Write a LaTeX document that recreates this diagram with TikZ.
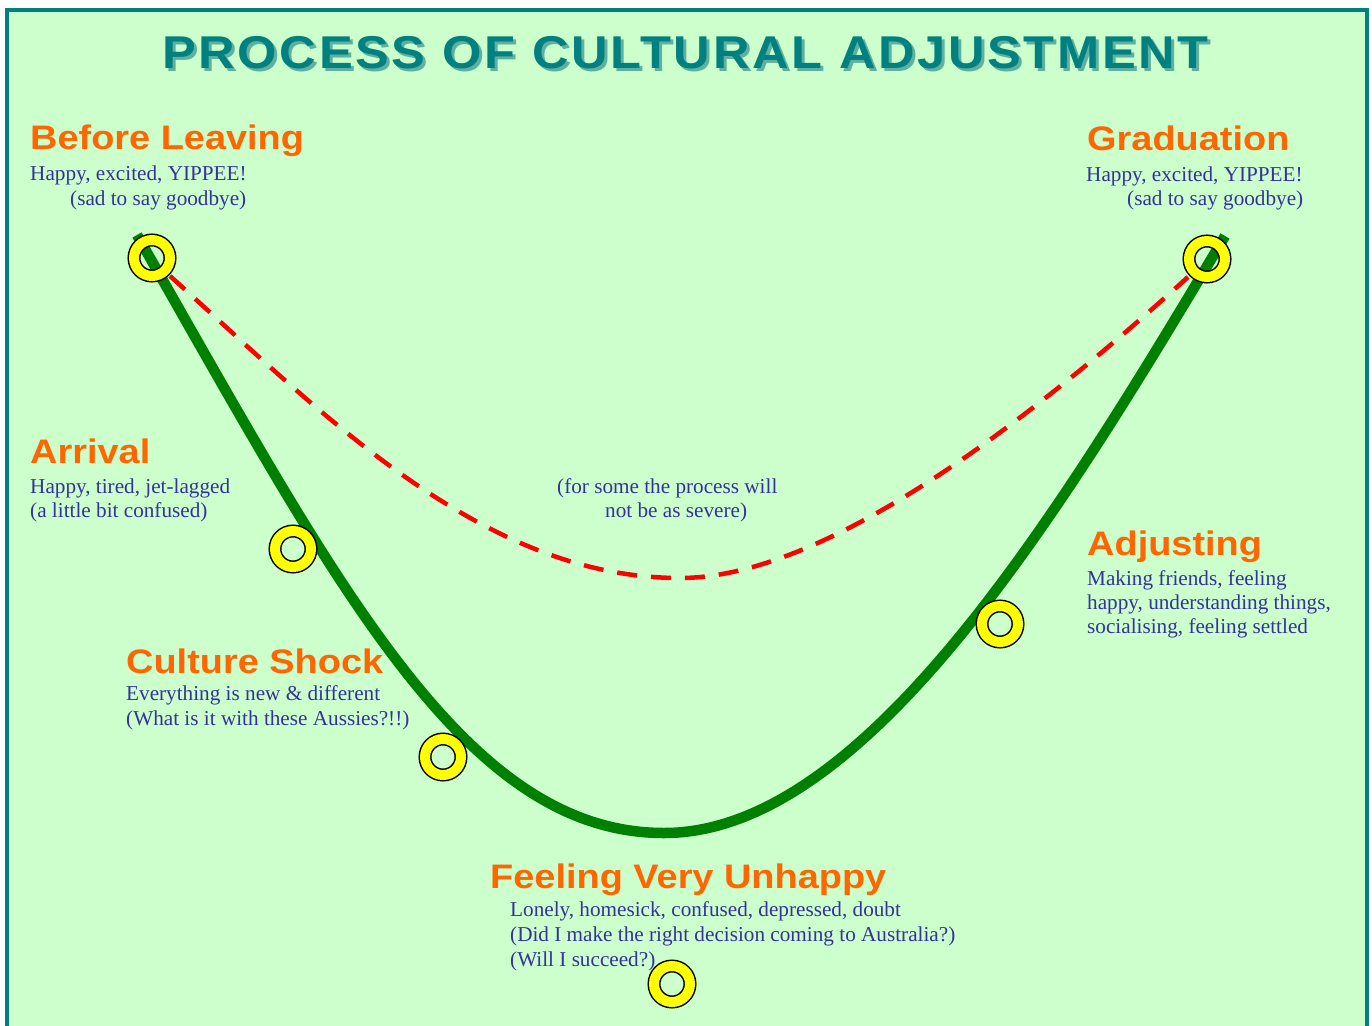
\documentclass[tikz,border=0pt]{standalone}
\usepackage{fontspec}
\setmainfont{Liberation Serif}
\newfontfamily\headfont[FakeStretch=1.115]{Liberation Sans}
\newfontfamily\titlefont[FakeStretch=1.1,LetterSpace=5.8]{Liberation Sans}
\definecolor{bggreen}{HTML}{CCFFCC}
\definecolor{tealc}{HTML}{008080}
\definecolor{tealshadow}{HTML}{60B0A0}
\definecolor{headorange}{HTML}{FF6600}
\definecolor{bodyblue}{HTML}{333399}
\definecolor{curvegreen}{HTML}{008000}
\definecolor{dashred}{HTML}{FF0000}
\definecolor{ringyellow}{HTML}{FFFF00}
\newcommand{\titlestring}{PROCESS OF CULTURAL ADJUSTMENT}
\begin{document}
\begin{tikzpicture}[x=1pt,y=-1pt,
  heading/.style={anchor=base west, inner sep=0pt, text=headorange, font=\headfont\bfseries\fontsize{34}{40}\selectfont},
  body/.style={anchor=base west, inner sep=0pt, text=bodyblue, font=\fontsize{21.2}{25}\selectfont},
  titletext/.style={anchor=base west, inner sep=0pt, font=\titlefont\bfseries\fontsize{46}{50}\selectfont},
  greenline/.style={draw=curvegreen, line width=10.5pt, line cap=butt},
  redline/.style={draw=dashred, line width=4.5pt, dash pattern=on 20pt off 14pt},
  donut/.style={circle, draw=black, line width=1.5pt, double=ringyellow, double distance=10pt, minimum size=36pt, inner sep=0pt}
]
\useasboundingbox (0,0) rectangle (1372,1025);
\fill[white] (0,0) rectangle (1372,1025);
\begin{scope}
\clip (0,0) rectangle (1372,1025);
\draw[fill=bggreen, draw=tealc, line width=4pt] (7,10) rectangle (1367,1050);
\end{scope}

% title with drop shadow (one node)
\node[titletext, text=tealc] (title) at (162,68)
  {\makebox[0pt][l]{\hspace{3pt}\raisebox{-3pt}{\textcolor{tealshadow}{\titlestring}}}\titlestring};

% curve coordinates
\coordinate (gL) at (137,235);
\coordinate (gB) at (664,833);
\coordinate (gR) at (1225,236);
\coordinate (rL) at (170,276);
\coordinate (rB) at (680,578);
\coordinate (rR) at (1188,277);

\draw[redline] (rL) .. controls (320,411) and (480,578) .. (rB) .. controls (830,578) and (1040,411) .. (rR);
\draw[greenline] (gL) .. controls (337,585) and (464,833) .. (gB) .. controls (864,833) and (1057,518) .. (gR);

% donuts
\node[donut] (d1) at (152,258) {};
\node[donut] (d2) at (1207,259) {};
\node[donut] (d3) at (293,549) {};
\node[donut] (d4) at (443,757) {};
\node[donut] (d5) at (1000,624) {};
\node[donut] (d6) at (672,984) {};

% texts
\node[heading] (h1) at (30,149) {Before Leaving};
\node[body] (b1a) at (30,180) {Happy, excited, YIPPEE!};
\node[body] (b1b) at (70,205) {(sad to say goodbye)};

\node[heading] (h2) at (1087,150) {Graduation};
\node[body] (b2a) at (1086,181) {Happy, excited, YIPPEE!};
\node[body] (b2b) at (1127,205) {(sad to say goodbye)};

\node[heading] (h3) at (30,463) {Arrival};
\node[body] (b3a) at (30,493) {Happy, tired, jet-lagged};
\node[body] (b3b) at (30,517) {(a little bit confused)};

\node[body] (m1) at (557,493) {(for some the process will};
\node[body] (m2) at (605,517) {not be as severe)};

\node[heading] (h4) at (1087,555) {Adjusting};
\node[body] (b4a) at (1087,585) {Making friends, feeling};
\node[body] (b4b) at (1087,609) {happy, understanding things,};
\node[body] (b4c) at (1087,633) {socialising, feeling settled};

\node[heading] (h5) at (126,673) {Culture Shock};
\node[body] (b5a) at (126,700) {Everything is new \& different};
\node[body] (b5b) at (126,725) {(What is it with these Aussies?!!)};

\node[heading] (h6) at (490,888) {Feeling Very Unhappy};
\node[body] (b6a) at (510,916) {Lonely, homesick, confused, depressed, doubt};
\node[body] (b6b) at (510,941) {(Did I make the right decision coming to Australia?)};
\node[body] (b6c) at (510,966) {(Will I succeed?)};
\end{tikzpicture}
\end{document}
